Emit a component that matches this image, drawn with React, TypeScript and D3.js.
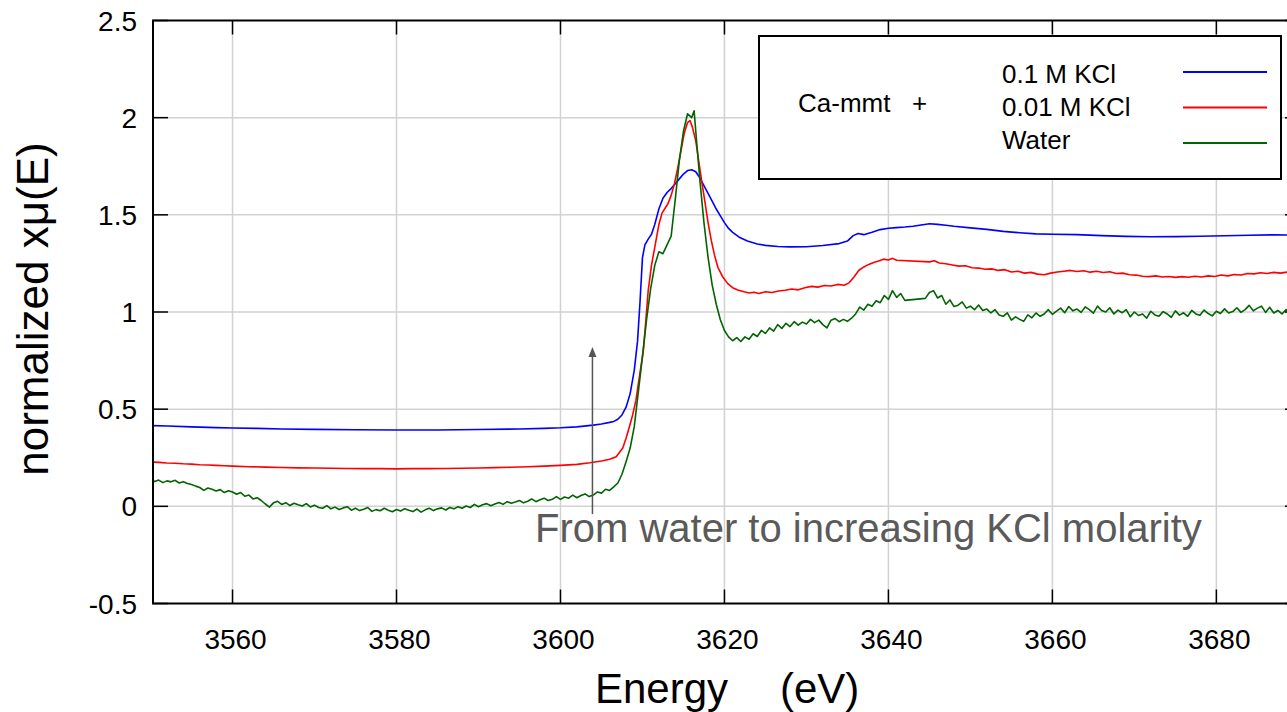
import React from 'react';
import * as d3 from 'd3';

// ---------- data ----------
const xTicks = [3560, 3580, 3600, 3620, 3640, 3660, 3680];
const yTicks = [-0.5, 0, 0.5, 1, 1.5, 2, 2.5];
const yTickLabels = ['-0.5', '0', '0.5', '1', '1.5', '2', '2.5'];
const seriesNames = ['0.1 M KCl', '0.01 M KCl', 'Water'];
const seriesColors = ['#0000ff', '#ff0000', '#006400'];
const legendPrefix = 'Ca-mmt   +';
const annotationText = 'From water to increasing KCl molarity';
const arrowEnergy = 3603.9;
const arrowFrom = -0.04;
const arrowTo = 0.82;

const kcl01: [number, number][] = [
  [3550, 0.416], [3552, 0.413], [3555, 0.409], [3558, 0.405], [3560, 0.403], [3563, 0.401], [3566, 0.398],
  [3570, 0.396], [3575, 0.394], [3580, 0.393], [3585, 0.393], [3590, 0.395], [3595, 0.398], [3598, 0.401],
  [3600, 0.404], [3602, 0.409], [3604, 0.418], [3605, 0.424], [3606, 0.432], [3606.5, 0.437], [3607, 0.448],
  [3607.5, 0.47], [3608, 0.51], [3608.5, 0.58], [3609, 0.7], [3609.4, 0.85], [3609.7, 1.05], [3610, 1.28],
  [3610.3, 1.345], [3610.7, 1.375], [3611.1, 1.4], [3611.5, 1.45], [3612, 1.53], [3612.5, 1.585], [3613, 1.615],
  [3613.5, 1.635], [3614, 1.66], [3614.5, 1.685], [3615, 1.71], [3615.5, 1.728], [3616, 1.732], [3616.5, 1.722],
  [3617, 1.69], [3617.5, 1.65], [3618, 1.61], [3618.5, 1.57], [3619, 1.53], [3619.5, 1.495], [3620, 1.46],
  [3620.5, 1.43], [3621, 1.41], [3621.8, 1.385], [3622.8, 1.365], [3624, 1.35], [3625, 1.343], [3626.5, 1.337],
  [3628, 1.335], [3630, 1.336], [3632, 1.342], [3634, 1.352], [3635, 1.365], [3635.7, 1.393], [3636.3, 1.404],
  [3637, 1.398], [3638, 1.41], [3639, 1.424], [3640, 1.431], [3641, 1.434], [3642, 1.437], [3643, 1.441],
  [3644, 1.448], [3645, 1.454], [3646, 1.451], [3647, 1.446], [3648, 1.441], [3650, 1.433], [3652, 1.425],
  [3654, 1.415], [3656, 1.408], [3658, 1.402], [3660, 1.4], [3663, 1.398], [3666, 1.393], [3669, 1.389],
  [3672, 1.387], [3675, 1.388], [3678, 1.39], [3681, 1.392], [3684, 1.395], [3687, 1.397], [3689.5, 1.396],
];

const kcl001: [number, number][] = [
  [3550, 0.228], [3551, 0.226], [3552, 0.223], [3553, 0.222], [3554, 0.219], [3555, 0.217], [3556, 0.214],
  [3557, 0.213], [3558, 0.211], [3559, 0.209], [3560, 0.207], [3562, 0.204], [3564, 0.202], [3566, 0.2],
  [3568, 0.198], [3570, 0.197], [3572, 0.196], [3574, 0.195], [3576, 0.194], [3578, 0.194], [3580, 0.193],
  [3582, 0.194], [3584, 0.194], [3586, 0.195], [3588, 0.196], [3590, 0.197], [3592, 0.199], [3594, 0.201],
  [3596, 0.204], [3598, 0.207], [3600, 0.211], [3602, 0.216], [3603.6, 0.224], [3605, 0.233], [3606, 0.242],
  [3606.8, 0.255], [3607.6, 0.3], [3608, 0.35], [3608.4, 0.408], [3608.8, 0.47], [3609.2, 0.545], [3609.6, 0.66],
  [3610.1, 0.8], [3610.4, 0.95], [3610.7, 1.11], [3611.1, 1.24], [3611.5, 1.333], [3612, 1.45], [3612.4, 1.51],
  [3613.1, 1.557], [3613.5, 1.6], [3613.9, 1.66], [3614.3, 1.74], [3614.7, 1.83], [3615.1, 1.92], [3615.5, 1.975],
  [3615.8, 1.985], [3616.1, 1.95], [3616.5, 1.88], [3616.8, 1.795], [3617.2, 1.68], [3617.6, 1.572], [3618, 1.46],
  [3618.4, 1.367], [3618.8, 1.29], [3619.2, 1.23], [3619.8, 1.18], [3620.4, 1.146], [3621, 1.125], [3621.7, 1.112],
  [3622.4, 1.104], [3623, 1.098], [3623.6, 1.102], [3624.2, 1.095], [3625, 1.104], [3625.8, 1.1], [3626.6, 1.108],
  [3627.4, 1.112], [3628.2, 1.118], [3629, 1.114], [3629.8, 1.125], [3630.6, 1.132], [3631.4, 1.128], [3632.2, 1.136],
  [3633, 1.134], [3633.8, 1.142], [3634.6, 1.138], [3635.2, 1.15], [3635.8, 1.18], [3636.4, 1.215], [3637, 1.232],
  [3637.6, 1.245], [3638.2, 1.255], [3638.8, 1.262], [3639.4, 1.272], [3640, 1.268], [3640.5, 1.276], [3641, 1.266],
  [3645, 1.258], [3645.6, 1.264], [3646.2, 1.252], [3647, 1.248], [3647.8, 1.242], [3648.6, 1.236], [3649.4, 1.238],
  [3650.2, 1.228], [3651, 1.226], [3651.8, 1.22], [3652.6, 1.222], [3653.4, 1.214], [3654.2, 1.218], [3655, 1.206],
  [3655.8, 1.21], [3656.6, 1.2], [3657.4, 1.204], [3658.2, 1.195], [3659, 1.192], [3659.8, 1.2], [3660.6, 1.206],
  [3661.4, 1.21], [3662.2, 1.214], [3663, 1.208], [3663.8, 1.212], [3664.6, 1.205], [3665.4, 1.21], [3666.2, 1.203],
  [3667, 1.207], [3667.8, 1.198], [3668.6, 1.2], [3669.4, 1.192], [3670.2, 1.19], [3671, 1.184], [3671.8, 1.182],
  [3672.6, 1.186], [3673.4, 1.18], [3674.2, 1.183], [3675, 1.178], [3675.8, 1.182], [3676.6, 1.179], [3677.4, 1.184],
  [3678.2, 1.18], [3679, 1.186], [3679.8, 1.183], [3680.6, 1.19], [3681.4, 1.186], [3682.2, 1.193], [3683, 1.19],
  [3683.8, 1.198], [3684.6, 1.196], [3685.4, 1.202], [3686.2, 1.198], [3687, 1.204], [3687.8, 1.2], [3688.6, 1.205],
  [3689.5, 1.202],
];

const water: [number, number][] = [
  [3550, 0.138], [3550.5, 0.128], [3551, 0.135], [3551.5, 0.122], [3552, 0.131], [3552.5, 0.126], [3553, 0.134],
  [3553.5, 0.12], [3554, 0.127], [3554.5, 0.118], [3555, 0.112], [3555.5, 0.104], [3556, 0.097], [3556.5, 0.082],
  [3557, 0.094], [3557.5, 0.088], [3558, 0.079], [3558.5, 0.086], [3559, 0.071], [3559.5, 0.08], [3560, 0.074],
  [3560.5, 0.062], [3561, 0.071], [3561.5, 0.052], [3562, 0.058], [3562.5, 0.038], [3563, 0.044], [3563.5, 0.03],
  [3564, 0.012], [3564.5, -0.004], [3565, 0.018], [3565.5, 0.026], [3566, 0.01], [3566.5, 0.019], [3567, 0.004],
  [3567.5, 0.016], [3568, 0.008], [3568.5, 0.002], [3569, 0.014], [3569.5, -0.003], [3570, 0.006], [3570.5, -0.006],
  [3571, -0.01], [3571.5, 0.004], [3572, -0.013], [3572.5, -0.004], [3573, -0.016], [3573.5, -0.008], [3574, -0.002],
  [3574.5, -0.02], [3575, -0.01], [3575.5, -0.022], [3576, -0.015], [3576.5, -0.006], [3577, -0.026], [3577.5, -0.017],
  [3578, -0.023], [3578.5, -0.01], [3579, -0.02], [3579.5, -0.028], [3580, -0.016], [3580.5, -0.024], [3581, -0.012],
  [3581.5, -0.02], [3582, -0.027], [3582.5, -0.014], [3583, -0.03], [3583.5, -0.018], [3584, -0.01], [3584.5, -0.022],
  [3585, -0.013], [3585.5, -0.008], [3586, -0.019], [3586.5, -0.006], [3587, -0.013], [3587.5, -0.002], [3588, -0.01],
  [3588.5, 0.002], [3589, -0.006], [3589.5, 0.01], [3590, -0.002], [3590.5, 0.008], [3591, 0.014], [3591.5, 0.003],
  [3592, 0.012], [3592.5, 0.02], [3593, 0.01], [3593.5, 0.024], [3594, 0.016], [3594.5, 0.022], [3595, 0.03],
  [3595.5, 0.018], [3596, 0.026], [3596.5, 0.038], [3597, 0.024], [3597.5, 0.034], [3598, 0.042], [3598.5, 0.03],
  [3599, 0.036], [3599.5, 0.05], [3600, 0.036], [3600.5, 0.048], [3601, 0.042], [3601.5, 0.058], [3602, 0.044],
  [3602.5, 0.056], [3603, 0.064], [3603.5, 0.05], [3604, 0.058], [3604.5, 0.074], [3605, 0.068], [3605.5, 0.088],
  [3606, 0.082], [3606.5, 0.1], [3607, 0.12], [3607.5, 0.165], [3608, 0.23], [3608.5, 0.3], [3609, 0.41],
  [3609.5, 0.59], [3610, 0.77], [3610.5, 0.96], [3611, 1.12], [3611.5, 1.24], [3612, 1.31], [3612.5, 1.3],
  [3613, 1.345], [3613.5, 1.39], [3614, 1.58], [3614.5, 1.78], [3615, 1.93], [3615.5, 2.02], [3616, 2.0],
  [3616.3, 2.035], [3616.6, 1.88], [3617, 1.68], [3617.5, 1.46], [3618, 1.281], [3618.5, 1.14], [3619, 1.04],
  [3619.5, 0.96], [3620, 0.905], [3620.5, 0.872], [3621, 0.852], [3621.5, 0.868], [3622, 0.848], [3622.5, 0.872],
  [3623, 0.86], [3623.5, 0.888], [3624, 0.874], [3624.5, 0.905], [3625, 0.89], [3625.5, 0.918], [3626, 0.902],
  [3626.5, 0.935], [3627, 0.915], [3627.5, 0.942], [3628, 0.925], [3628.5, 0.95], [3629, 0.932], [3629.5, 0.948],
  [3630, 0.938], [3630.5, 0.962], [3631, 0.945], [3631.5, 0.958], [3632, 0.935], [3632.5, 0.918], [3633, 0.958],
  [3633.5, 0.966], [3634, 0.95], [3634.5, 0.962], [3635, 0.952], [3635.5, 0.968], [3636, 0.99], [3636.5, 1.025],
  [3637, 1.01], [3637.5, 1.04], [3638, 1.03], [3638.5, 1.058], [3639, 1.048], [3639.5, 1.085], [3640, 1.065],
  [3640.5, 1.11], [3641, 1.075], [3641.5, 1.095], [3642, 1.06], [3644.5, 1.07], [3645, 1.1], [3645.5, 1.11],
  [3646, 1.072], [3646.5, 1.085], [3647, 1.04], [3647.5, 1.062], [3648, 1.028], [3648.5, 1.035], [3649, 1.052],
  [3649.5, 1.02], [3650, 1.03], [3650.5, 1.012], [3651, 1.036], [3651.5, 1.008], [3652, 1.015], [3652.5, 0.995],
  [3653, 1.012], [3653.5, 0.985], [3654, 0.978], [3654.5, 0.996], [3655, 0.958], [3655.5, 0.975], [3656, 0.962],
  [3656.5, 0.952], [3657, 0.985], [3657.5, 0.97], [3658, 0.995], [3658.5, 0.978], [3659, 0.99], [3659.5, 1.012],
  [3660, 0.988], [3660.5, 1.004], [3661, 1.02], [3661.5, 0.996], [3662, 1.028], [3662.5, 1.006], [3663, 1.015],
  [3663.5, 0.998], [3664, 1.026], [3664.5, 1.012], [3665, 0.994], [3665.5, 1.03], [3666, 1.008], [3666.5, 1.0],
  [3667, 1.022], [3667.5, 0.99], [3668, 1.01], [3668.5, 0.996], [3669, 1.012], [3669.5, 0.975], [3670, 1.0],
  [3670.5, 0.982], [3671, 0.99], [3671.5, 0.968], [3672, 1.004], [3672.5, 0.985], [3673, 0.978], [3673.5, 1.002],
  [3674, 0.99], [3674.5, 0.972], [3675, 1.006], [3675.5, 0.984], [3676, 0.996], [3676.5, 0.978], [3677, 1.008],
  [3677.5, 0.99], [3678, 0.983], [3678.5, 1.01], [3679, 0.992], [3679.5, 0.98], [3680, 1.004], [3680.5, 0.992],
  [3681, 1.016], [3681.5, 0.995], [3682, 1.002], [3682.5, 1.022], [3683, 0.998], [3683.5, 1.012], [3684, 1.034],
  [3684.5, 1.006], [3685, 1.02], [3685.5, 1.03], [3686, 0.998], [3686.5, 1.024], [3687, 0.995], [3687.5, 1.008],
  [3688, 0.99], [3688.5, 1.012], [3689, 0.994], [3689.5, 1.004],
];

const seriesData = [kcl01, kcl001, water];

// ---------- layout ----------
const W = 1287;
const H = 712;
const left = 153;
const right = 1300;
const top = 20.5;
const bottom = 603.5;
const FONT = '"Liberation Sans", Arial, Helvetica, sans-serif';

export default function App() {
  const x = d3.scaleLinear().domain([3550.3, 3690.2]).range([left, right]);
  const y = d3.scaleLinear().domain([-0.5, 2.5]).range([bottom, top]);
  const line = d3
    .line<[number, number]>()
    .x((d) => x(d[0]))
    .y((d) => y(d[1]));

  const tickLen = 15;
  const ax = x(arrowEnergy);
  const ayTop = y(arrowTo);
  const ayBottom = y(arrowFrom);

  return (
    <svg
      width={W}
      height={H}
      style={{ position: 'absolute', left: 0, top: 0, background: '#fff' }}
      fontFamily={FONT}
    >
      <defs>
        <clipPath id="plotClip">
          <rect x={left} y={top} width={right - left} height={bottom - top} />
        </clipPath>
      </defs>
      <rect x={0} y={0} width={W} height={H} fill="#fff" />

      {/* grid */}
      <g stroke="#d2d2d2" strokeWidth={1.5}>
        {xTicks.map((t) => (
          <line key={'gx' + t} x1={x(t)} x2={x(t)} y1={top} y2={bottom} />
        ))}
        {yTicks.slice(1, -1).map((t) => (
          <line key={'gy' + t} x1={left} x2={right} y1={y(t)} y2={y(t)} />
        ))}
      </g>

      {/* curves */}
      <g clipPath="url(#plotClip)" fill="none" strokeWidth={1.6} strokeLinejoin="round">
        {seriesData.map((s, i) => (
          <path key={'s' + i} d={line(s) || ''} stroke={seriesColors[i]} />
        ))}
      </g>

      {/* frame */}
      <g stroke="#000" strokeWidth={2} fill="none">
        <rect x={left} y={top} width={right - left} height={bottom - top} />
        {xTicks.map((t) => (
          <g key={'tx' + t}>
            <line x1={x(t)} x2={x(t)} y1={bottom} y2={bottom - 14} strokeWidth={1.5} />
            <line x1={x(t)} x2={x(t)} y1={top} y2={top + 14} strokeWidth={1.5} />
          </g>
        ))}
        {yTicks.map((t) => (
          <g key={'ty' + t}>
            <line x1={left} x2={left + tickLen} y1={y(t)} y2={y(t)} strokeWidth={1.5} />
            <line x1={right} x2={right - tickLen} y1={y(t)} y2={y(t)} strokeWidth={1.5} />
          </g>
        ))}
      </g>

      {/* tick labels */}
      <g fill="#000">
        {yTicks.map((t, i) => (
          <text key={'ly' + t} x={137} y={y(t) + 10} textAnchor="end" fontSize={28}>
            {yTickLabels[i]}
          </text>
        ))}
        {xTicks.map((t) => (
          <text key={'lx' + t} x={x(t) + 3} y={649} textAnchor="middle" fontSize={28}>
            {t}
          </text>
        ))}
      </g>

      {/* axis titles */}
      <text x={595} y={703} fontSize={42} fill="#000">Energy</text>
      <text x={780} y={703} fontSize={42} fill="#000">(eV)</text>
      <text
        transform={`translate(48, ${309}) rotate(-90)`}
        textAnchor="middle"
        fontSize={44}
        fill="#000"
      >
        normalized xμ(E)
      </text>

      {/* annotation */}
      <text x={535} y={542} fontSize={40} fill="#5a5a5a">
        {annotationText}
      </text>
      <line x1={ax} x2={ax} y1={ayBottom} y2={ayTop + 6} stroke="#555" strokeWidth={1.5} />
      <path d={`M${ax},${ayTop} L${ax - 4},${ayTop + 10} L${ax + 4},${ayTop + 10} Z`} fill="#555" />

      {/* legend */}
      <rect x={759} y={36} width={522} height={143} fill="#fff" stroke="#000" strokeWidth={2} />
      <text x={798} y={112} fontSize={26} fill="#000" style={{ whiteSpace: 'pre' }}>
        {legendPrefix}
      </text>
      {seriesNames.map((n, i) => (
        <g key={'lg' + i}>
          <text x={1002} y={83 + i * 33} fontSize={26} fill="#000">
            {n}
          </text>
          <line x1={1183} x2={1267} y1={72 + i * 35.5} y2={72 + i * 35.5} stroke={seriesColors[i]} strokeWidth={2} />
        </g>
      ))}
    </svg>
  );
}
